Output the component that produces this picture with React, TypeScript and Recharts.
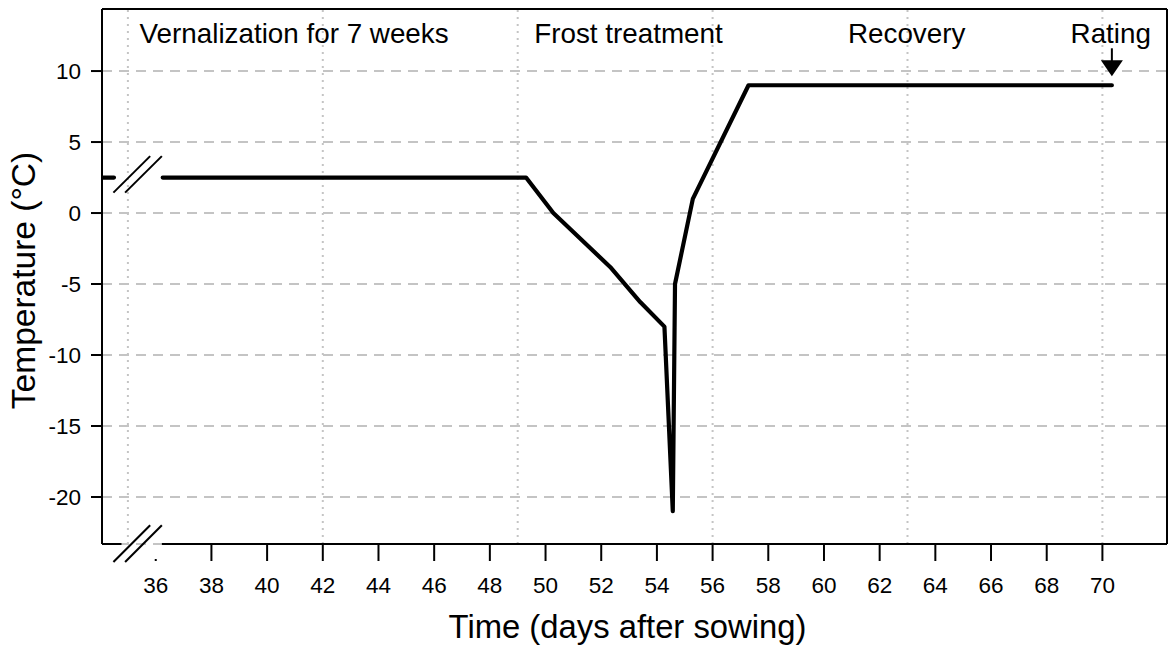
import { LineChart, Line, XAxis, YAxis, CartesianGrid, ReferenceLine, ReferenceDot } from "recharts";

// temperature profile (days after sowing / °C); the null splits the line at the axis break
const days = [34.07, 34.5, 35.4, 36.25, 49.3, 50.28, 52.32, 53.4, 54.27, 54.57, 54.65, 55.29, 57.29, 70.34];
const temps = [2.5, 2.5, null, 2.5, 2.5, 0, -3.8, -6.27, -8, -21, -5, 1, 9, 9];

const xTicks = [36, 38, 40, 42, 44, 46, 48, 50, 52, 54, 56, 58, 60, 62, 64, 66, 68, 70];
const yTicks = [-20, -15, -10, -5, 0, 5, 10];
const weekDays = [35, 42, 49, 56, 63, 70];

const phaseLabels = ["Vernalization for 7 weeks", "Frost treatment", "Recovery", "Rating"];
const phaseDays = [40.97, 52.98, 62.97, 70.3];
const phaseLabelTemp = 12.0;
const ratingDay = 70.34;
const ratingTemp = 9.63;

const xDomain: [number, number] = [34.07, 72.32];
const yDomain: [number, number] = [-23.31, 14.37];

// axis break
const gapStart = 34.77;
const gapEnd = 36.22;
const breakMarksX = [
  [34.48, 35.8],
  [34.9, 36.22],
];
const bottomBreakY = [-24.58, -21.99];
const lineBreakY = [1.44, 4.01];

const data = days.map((day, i) => ({ day, temp: temps[i] }));

const FONT = "'Liberation Sans', Arial, sans-serif";
const GRID = "#c4c4c4";

function XTick({ x, y, payload }: any) {
  const hidden = payload.value === 36;
  return (
    <g>
      <line x1={x} x2={x} y1={hidden ? y + 15 : y} y2={y + 17} stroke="#000" strokeWidth={2} />
      <text x={x} y={y + 49} textAnchor="middle" fontSize={22.5} fill="#000">
        {payload.value}
      </text>
    </g>
  );
}

function XTitle({ viewBox }: any) {
  const { x, y, width } = viewBox;
  return (
    <text x={x + width / 2 - 7} y={y + 94} textAnchor="middle" fontSize={32.8} fill="#000">
      Time (days after sowing)
    </text>
  );
}

function YTitle({ viewBox }: any) {
  const { y, height } = viewBox;
  const cy = y + height / 2 + 4;
  return (
    <text x={35} y={cy} transform={`rotate(-90, 35, ${cy})`} textAnchor="middle" fontSize={33.5} fill="#000">
      Temperature (°C)
    </text>
  );
}

function PhaseText(text: string) {
  return (props: any) => (
    <text x={props.cx} y={props.cy} textAnchor="middle" fontSize={27.8} fill="#000">
      {text}
    </text>
  );
}

function RatingArrow(props: any) {
  const { cx, cy } = props;
  return (
    <g>
      <line x1={cx} x2={cx} y1={cy - 28} y2={cy - 14} stroke="#000" strokeWidth={2} />
      <path d={`M${cx - 11},${cy - 16} L${cx + 11},${cy - 16} L${cx},${cy} Z`} fill="#000" />
    </g>
  );
}

export default function App() {
  return (
    <div style={{ position: "absolute", left: 0, top: 0, background: "#fff" }}>
      <LineChart
        width={1170}
        height={650}
        data={data}
        margin={{ top: 9, right: 3, bottom: 0, left: 0 }}
        style={{ fontFamily: FONT }}
      >
        <CartesianGrid vertical={false} stroke={GRID} strokeWidth={2} strokeDasharray="10 7" />
        {weekDays.map((d) => (
          <ReferenceLine key={d} x={d} stroke={GRID} strokeWidth={2} strokeDasharray="2 5" />
        ))}

        <XAxis
          type="number"
          dataKey="day"
          domain={xDomain}
          allowDataOverflow
          ticks={xTicks}
          interval={0}
          height={106}
          axisLine={false}
          tickLine={false}
          tickSize={0}
          tickMargin={0}
          tick={<XTick />}
          label={<XTitle />}
        />
        <YAxis
          type="number"
          domain={yDomain}
          allowDataOverflow
          ticks={yTicks}
          interval={0}
          width={102}
          axisLine={false}
          tickSize={11}
          tickMargin={10}
          tickLine={{ stroke: "#000", strokeWidth: 2 }}
          tick={{ fill: "#000", fontSize: 22.5 }}
          label={<YTitle />}
        />

        <Line
          type="linear"
          dataKey="temp"
          stroke="#000"
          strokeWidth={4.2}
          strokeLinejoin="round"
          strokeLinecap="round"
          dot={false}
          activeDot={false}
          connectNulls={false}
          isAnimationActive={false}
        />

        {/* frame */}
        <ReferenceLine x={xDomain[0]} stroke="#000" strokeWidth={2} ifOverflow="visible" />
        <ReferenceLine x={xDomain[1]} stroke="#000" strokeWidth={2} ifOverflow="visible" />
        <ReferenceLine y={yDomain[1]} stroke="#000" strokeWidth={2} ifOverflow="visible" />
        <ReferenceLine
          segment={[
            { x: xDomain[0], y: yDomain[0] },
            { x: gapStart, y: yDomain[0] },
          ]}
          stroke="#000"
          strokeWidth={2}
          ifOverflow="visible"
        />
        <ReferenceLine
          segment={[
            { x: gapEnd, y: yDomain[0] },
            { x: xDomain[1], y: yDomain[0] },
          ]}
          stroke="#000"
          strokeWidth={2}
          ifOverflow="visible"
        />

        {/* break marks */}
        {breakMarksX.map(([x1, x2], i) => (
          <ReferenceLine
            key={`b${i}`}
            segment={[
              { x: x1, y: bottomBreakY[0] },
              { x: x2, y: bottomBreakY[1] },
            ]}
            stroke="#000"
            strokeWidth={2}
            ifOverflow="visible"
          />
        ))}
        {breakMarksX.map(([x1, x2], i) => (
          <ReferenceLine
            key={`l${i}`}
            segment={[
              { x: x1, y: lineBreakY[0] },
              { x: x2, y: lineBreakY[1] },
            ]}
            stroke="#000"
            strokeWidth={2}
            ifOverflow="visible"
          />
        ))}

        {/* phase annotations */}
        {phaseLabels.map((t, i) => (
          <ReferenceDot key={t} x={phaseDays[i]} y={phaseLabelTemp} r={0} shape={PhaseText(t)} ifOverflow="visible" />
        ))}
        <ReferenceDot x={ratingDay} y={ratingTemp} r={0} shape={RatingArrow} ifOverflow="visible" />
      </LineChart>
    </div>
  );
}
